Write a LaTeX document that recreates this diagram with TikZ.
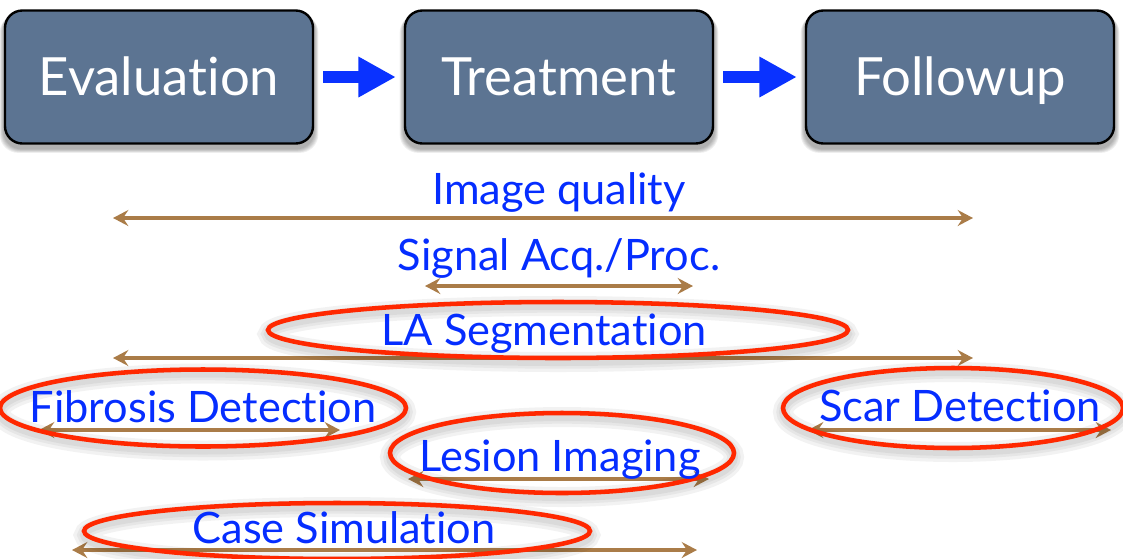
\documentclass[tikz,border=0pt]{standalone}
\usepackage{fontspec}
\setmainfont{Lato}[Ligatures=NoCommon]
\usetikzlibrary{arrows.meta,calc,backgrounds}
\definecolor{boxfill}{RGB}{92,116,146}
\definecolor{arrowblue}{RGB}{10,50,255}
\definecolor{txtblue}{RGB}{5,45,255}
\definecolor{brownline}{RGB}{170,124,72}
\definecolor{ringred}{RGB}{255,40,0}
\begin{document}
\begin{tikzpicture}[x=0.75pt,y=-0.75pt,
  stagebox/.style={draw=black, line width=1.8pt, fill=boxfill, rounded corners=13pt,
    minimum width=231pt, minimum height=99.75pt, text=white,
    font=\fontsize{39.5}{41}\selectfont, text height=28pt, text depth=0pt, inner sep=0pt},
  flow/.style={arrowblue, line width=9pt, -{Triangle[length=28pt,width=28.5pt]},
    shorten <=6.75pt, shorten >=6pt},
  span/.style={brownline, line width=2.6pt,
    {Stealth[length=11.5pt,width=12pt,inset=4pt]}-{Stealth[length=11.5pt,width=12pt,inset=4pt]}},
  lbl/.style={text=txtblue, font=\fontsize{32.5}{34}\selectfont, anchor=base, inner sep=0pt},
  ring/.style={ringred, line width=3.4pt},
  ringshade/.style={black, opacity=0.05},
]
\useasboundingbox (0,0) rectangle (1123,558);

% stage boxes
\node[stagebox] (ev) at (159,77) {Evaluation};
\node[stagebox] (tr) at (559,77) {Treatment};
\node[stagebox] (fu) at (960,77) {Followup};

\begin{pgfonlayer}{background}
  \foreach \n in {ev,tr,fu}{
    \foreach \i in {1,...,6}{
      \fill[black,opacity=0.06,rounded corners=14pt]
        ($(\n.north west)+(-\i*0.7,\i*0.5+2)$) rectangle ($(\n.south east)+(\i*0.7,\i*0.7+4)$);
    }
  }
\end{pgfonlayer}

\draw[flow] (ev.east) -- (tr.west);
\draw[flow] (tr.east) -- (fu.west);

% span arrows
\coordinate (iqL) at (113,218); \coordinate (iqR) at (973,218);
\coordinate (saL) at (425,286); \coordinate (saR) at (693,286);
\coordinate (laL) at (113,358); \coordinate (laR) at (973,358);
\coordinate (fdL) at (39,430);  \coordinate (fdR) at (340,430);
\coordinate (sdL) at (808,430); \coordinate (sdR) at (1111,430);
\coordinate (liL) at (408,479); \coordinate (liR) at (709,479);
\coordinate (csL) at (72,550);  \coordinate (csR) at (697,550);
\draw[span] (iqL) -- (iqR);
\draw[span] (saL) -- (saR);
\draw[span] (laL) -- (laR);
\draw[span] (fdL) -- (fdR);
\draw[span] (sdL) -- (sdR);
\draw[span] (liL) -- (liR);
\draw[span] (csL) -- (csR);

% ellipse shadows
\foreach \cx/\cy/\rx/\ry in {558/330/290/28, 203/408/203/38.5, 953/408/170/40, 562/453/172/40, 337/531/253/28}{
  \foreach \w in {15pt,10pt,6pt}{
    \draw[ringshade, line width=\w] (\cx,\cy+4) ellipse [x radius=\rx, y radius=\ry];
  }
}
% ellipses
\draw[ring] (558,330) ellipse [x radius=290, y radius=28];
\draw[ring] (203,408) ellipse [x radius=203, y radius=38.5];
\draw[ring] (953,408) ellipse [x radius=170, y radius=40];
\draw[ring] (562,453) ellipse [x radius=172, y radius=40];
\draw[ring] (337,531) ellipse [x radius=253, y radius=28];

% labels
\node[lbl] (iq) at (559,204) {Image quality};
\node[lbl] (sa) at (559,270) {Signal Acq./Proc.};
\node[lbl] (la) at (544,345) {LA Segmentation};
\node[lbl] (fd) at (203,422) {Fibrosis Detection};
\node[lbl] (sd) at (960,421) {Scar Detection};
\node[lbl] (li) at (560,471) {Lesion Imaging};
\node[lbl] (cs) at (344,543) {Case Simulation};
\end{tikzpicture}
\end{document}
